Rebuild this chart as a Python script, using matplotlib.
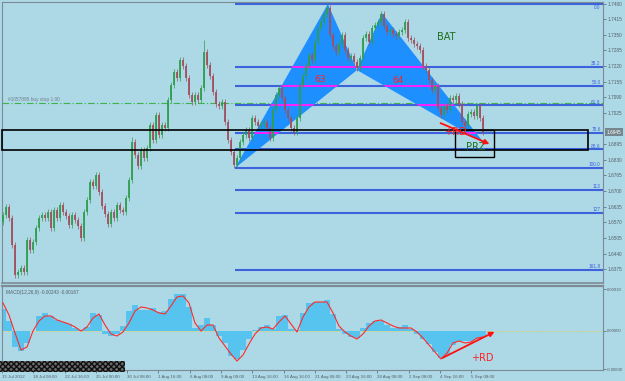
import matplotlib
matplotlib.use('Agg')
import matplotlib.pyplot as plt
import numpy as np
from matplotlib.patches import Polygon, Rectangle

# ---------------- data ----------------
closes = [1.6600, 1.6633, 1.6588, 1.6475, 1.6351, 1.6363, 1.6380, 1.6363, 1.6496, 1.6455,
          1.6488, 1.6546, 1.6588, 1.6600, 1.6588, 1.6613, 1.6546, 1.6621, 1.6588, 1.6642,
          1.6613, 1.6596, 1.6559, 1.6600, 1.6579, 1.6554, 1.6504, 1.6613, 1.6663, 1.6737,
          1.6721, 1.6767, 1.6696, 1.6638, 1.6604, 1.6563, 1.6613, 1.6588, 1.6642, 1.6621,
          1.6613, 1.6671, 1.6746, 1.6904, 1.6850, 1.6804, 1.6871, 1.6837, 1.6879, 1.6975,
          1.6912, 1.7016, 1.6933, 1.6975, 1.6962, 1.7079, 1.7141, 1.7195, 1.7170, 1.7245,
          1.7220, 1.7170, 1.7099, 1.7070, 1.7099, 1.7079, 1.7129, 1.7278, 1.7224, 1.7178,
          1.7112, 1.7062, 1.7054, 1.7070, 1.6987, 1.6912, 1.6862, 1.6808, 1.6837, 1.6904,
          1.6933, 1.6954, 1.6921, 1.7004, 1.6987, 1.6970, 1.6979, 1.6987, 1.6962, 1.6921,
          1.7037, 1.7099, 1.7129, 1.7087, 1.7037, 1.7004, 1.6962, 1.6945, 1.7004, 1.7141,
          1.7178, 1.7220, 1.7266, 1.7245, 1.7320, 1.7378, 1.7403, 1.7436, 1.7461, 1.7349,
          1.7303, 1.7278, 1.7312, 1.7349, 1.7287, 1.7253, 1.7262, 1.7237, 1.7212, 1.7253,
          1.7337, 1.7353, 1.7320, 1.7378, 1.7391, 1.7403, 1.7436, 1.7386, 1.7361, 1.7370,
          1.7353, 1.7345, 1.7361, 1.7370, 1.7403, 1.7337, 1.7328, 1.7312, 1.7303, 1.7287,
          1.7220, 1.7203, 1.7162, 1.7120, 1.7137, 1.7045, 1.7016, 1.7054, 1.7037, 1.7087,
          1.7079, 1.7095, 1.7062, 1.6987, 1.6970, 1.7020, 1.7029, 1.7012, 1.7054, 1.7004,
          1.6945]
first_open = 1.6570
spike_highs = {67: 1.7330, 43: 1.6925}

# harmonic BAT pattern X, A, B, C, D  (bar index, price)
pattern_bars = [77.3, 108.3, 118.0, 126.3, 160.3]
pattern_prices = [1.6795, 1.7478, 1.7203, 1.7440, 1.6900]

fib_ratios = [0.0, 38.2, 50.0, 61.8, 78.6, 88.6, 100.0, 113.0, 127.0, 161.8]
fib_labels = ['0.0', '38.2', '50.0', '61.8', '78.6', '88.6', '100.0', '113', '127', '161.8']
magenta_ratios = [38.2, 50.0, 61.8, 78.6]

buy_stop_price = 1.7066
zone_prices = [1.6871, 1.6952]
prz_prices = [1.6841, 1.6954]
prz_bars = [150.7, 163.7]
last_price = 1.6945

price_ticks = [1.7480, 1.7415, 1.7350, 1.7285, 1.7220, 1.7155, 1.7090, 1.7025,
               1.6895, 1.6830, 1.6765, 1.6700, 1.6635, 1.6570, 1.6505, 1.6440, 1.6375]

# MACD (sampled every 2 bars), units 1e-5
macd_hist = [477, 217, -347, -434, -260, 0, 326, 391, 326, 239,
             195, 152, 65, 22, 87, 391, 347, -65, -109, -65,
             109, 434, 564, 456, 456, 499, 412, 434, 694, 803,
             803, 521, 65, 130, 282, 130, -109, -260, -543, -608,
             -412, -174, 22, 87, 130, 43, 326, 347, 43, 22,
             391, 608, 629, 629, 673, 369, 43, -65, -130, -152,
             65, 174, 217, 217, 130, 65, 87, 130, 43, -65,
             -174, -282, -456, -586, -521, -304, -217, -217, -217, -174,
             -130]
macd_signal = [608, 347, -43, -412, -347, 0, 217, 326, 326, 239,
               195, 152, 87, 0, 87, 282, 369, 130, -65, -109,
               -22, 174, 434, 521, 499, 456, 391, 369, 543, 738,
               760, 608, 174, 0, 130, 130, -152, -326, -499, -651,
               -521, -282, -65, 65, 87, 43, 195, 326, 152, -22,
               304, 521, 629, 629, 629, 391, 109, -22, -109, -174,
               -65, 109, 217, 239, 174, 109, 65, 65, 65, -22,
               -152, -304, -456, -608, -477, -260, -217, -260, -239, -152,
               -130]
macd_ticks = [0.0091, 0.0, -0.0083]
macd_tick_labels = ['0.00910', '0.00000', '-0.00830']

date_labels = ['15 Jul 2012', '18 Jul 08:00', '22 Jul 16:00', '25 Jul 00:00', '30 Jul 08:00',
               '1 Aug 16:00', '6 Aug 08:00', '9 Aug 00:00', '13 Aug 16:00', '16 Aug 16:00',
               '21 Aug 08:00', '23 Aug 16:00', '28 Aug 08:00', '2 Sep 08:00', '4 Sep 16:00',
               '5 Sep 08:00']

# ---------------- style ----------------
BG = '#add8e6'
FIB = '#3c62dc'
GRID_TXT = '#55606a'
SPINE = '#7d8c94'
BULL = '#2f9e4e'
BEAR = '#a24f5e'
SMALL = 'Liberation Sans'
FS = 3.4

W, H = 625, 381
fig = plt.figure(figsize=(W / 100, H / 100), dpi=100, facecolor=BG)
ax = fig.add_axes([2 / W, (H - 283) / H, 601 / W, 281 / H], facecolor=BG)
mx = fig.add_axes([2 / W, (H - 370) / H, 601 / W, 84 / H], facecolor=BG)

XMIN, XMAX = -1 / 3, 200
ax.set_xlim(XMIN, XMAX)
ax.set_ylim(1.63173, 1.74863)

# fib levels
Xp, Ap = pattern_prices[0], pattern_prices[1]
levels = [Ap - r / 100 * (Ap - Xp) for r in fib_ratios]
ax.hlines(levels, pattern_bars[0], XMAX, color=FIB, lw=1.5, zorder=1)
for lv, lb, r in zip(levels, fib_labels, fib_ratios):
    if r == 0.0:
        ax.text(XMAX - 0.8, lv - 0.0004, lb, ha='right', va='top', fontsize=FS,
                family=SMALL, color=FIB, zorder=6)
    else:
        ax.text(XMAX - 0.8, lv + 0.0003, lb, ha='right', va='bottom', fontsize=FS,
                family=SMALL, color=FIB, zorder=6)

# buy stop line
ax.axhline(buy_stop_price, color='#3cb44a', lw=0.8, ls=(0, (6, 2, 1, 2)), zorder=1)
ax.text(1.5, buy_stop_price + 0.0005, '#1057895 buy stop 1.00', fontsize=FS, family=SMALL,
        color='#6f7f86', va='bottom', ha='left')

# triangles
pts = list(zip(pattern_bars, pattern_prices))
tri1 = Polygon([pts[0], pts[1], pts[2]], closed=True, facecolor='#1e8fff', edgecolor='none', zorder=2)
tri2 = Polygon([pts[2], pts[3], pts[4]], closed=True, facecolor='#1e8fff', edgecolor='none', zorder=2)
ax.add_patch(tri1)
ax.add_patch(tri2)
for tri in (tri1, tri2):
    for r in magenta_ratios:
        lv = Ap - r / 100 * (Ap - Xp)
        ln, = ax.plot([XMIN, XMAX], [lv, lv], color='#ff20ff', lw=1.4, zorder=3)
        ln.set_clip_path(tri)

# candles
opens = [first_open] + closes[:-1]
wick = 0.0012
for i, (o, c) in enumerate(zip(opens, closes)):
    hi = max(o, c) + wick
    lo = min(o, c) - wick
    if i in spike_highs:
        hi = spike_highs[i]
    col = BULL if c >= o else BEAR
    ax.vlines(i, lo, hi, color=col, lw=0.6, alpha=0.85, zorder=4)
    ax.vlines(i, min(o, c), max(o, c), color=col, lw=1.3, zorder=4)

# zones
ax.add_patch(Rectangle((XMIN, zone_prices[0]), 195.0 - XMIN, zone_prices[1] - zone_prices[0],
                       fill=False, ec='black', lw=1.2, zorder=5, clip_on=False))
ax.add_patch(Rectangle((prz_bars[0], prz_prices[0]), prz_bars[1] - prz_bars[0],
                       prz_prices[1] - prz_prices[0], fill=False, ec='black', lw=1.0, zorder=5))

# labels
ax.text(147.7, 1.7341, 'BAT', color='#1c6e1c', fontsize=7, ha='center', va='center', zorder=6)
ax.text(105.7, 1.7162, '63', color='#ff2020', fontsize=6.5, ha='center', va='center', zorder=6)
ax.text(131.7, 1.7158, '64', color='#ff2020', fontsize=6.5, ha='center', va='center', zorder=6)
ax.text(150.6, 1.6947, '+RD', color='#ff2020', fontsize=7, ha='center', va='center', zorder=6)
ax.text(157.7, 1.6885, 'PRZ', color='#1c6e1c', fontsize=7, ha='center', va='center', zorder=6)
ax.annotate('', xy=(163.0, 1.6891), xytext=(145.0, 1.6987),
            arrowprops=dict(arrowstyle='-|>', color='#ff1010', lw=1.3, mutation_scale=7), zorder=7)

# axes styling main
ax.yaxis.tick_right()
ax.set_yticks(price_ticks)
ax.set_yticklabels([f'{t:.4f}' for t in price_ticks], family=SMALL)
ax.tick_params(axis='y', labelsize=FS, colors=GRID_TXT, length=2, width=0.5, pad=1)
ax.set_xticks([])
for s in ax.spines.values():
    s.set_color(SPINE)
    s.set_linewidth(0.8)
ax.spines['bottom'].set_linewidth(1.2)
ax.annotate(f'{last_price:.4f}', xy=(1.0, last_price), xycoords=('axes fraction', 'data'),
            xytext=(2.5, 0), textcoords='offset points', fontsize=FS, family=SMALL, color='white',
            va='center', ha='left',
            bbox=dict(boxstyle='square,pad=0.3', fc='#76868e', ec='none'), zorder=8)

# ---------------- MACD ----------------
mx.set_xlim(XMIN, XMAX)
mx.set_ylim(-0.00846, 0.00976)
mbars = np.arange(len(macd_hist)) * 2
mh = np.array(macd_hist) * 1e-5
ms = np.array(macd_signal) * 1e-5
mx.bar(mbars, mh, width=2.0, color='#56c4ee', edgecolor='none', zorder=2)
mx.plot(mbars, ms, color='#ff2a2a', lw=0.8, zorder=3)
mx.axhline(0, color='#e2d24a', lw=0.6, ls=(0, (2, 2)), zorder=1)
mx.text(1.0, 0.0090, 'MACD(12,26,9) -0.00243 -0.00167', fontsize=FS, family=SMALL,
        color=GRID_TXT, va='top', ha='left')
mx.annotate('', xy=(164.7, 0.0001), xytext=(145.7, -0.0061),
            arrowprops=dict(arrowstyle='-|>', color='#ff1010', lw=1.3, mutation_scale=7), zorder=7)
mx.text(159.7, -0.0058, '+RD', color='#ff2020', fontsize=7, ha='center', va='center', zorder=6)

mx.yaxis.tick_right()
mx.set_yticks(macd_ticks)
mx.set_yticklabels(macd_tick_labels, family=SMALL)
mx.tick_params(axis='y', labelsize=3.1, colors=GRID_TXT, length=2, width=0.5, pad=0.8)
tick_pos = XMIN + 10.43 * np.arange(len(date_labels))
mx.set_xticks(tick_pos)
mx.set_xticklabels(date_labels, ha='left', family=SMALL)
mx.tick_params(axis='x', labelsize=3.2, colors=GRID_TXT, length=2.5, width=0.5, pad=1)
for s in mx.spines.values():
    s.set_color(SPINE)
    s.set_linewidth(0.8)
mx.spines['top'].set_linewidth(1.6)

# noisy watermark strip bottom-left
fig.add_artist(Rectangle((0, (H - 372) / H), 125 / W, 11 / H, transform=fig.transFigure,
                         facecolor='#6a6a6a', edgecolor='#111111', hatch='xxxxxx', lw=0))

fig.savefig('out.png', dpi=100, facecolor=BG)
